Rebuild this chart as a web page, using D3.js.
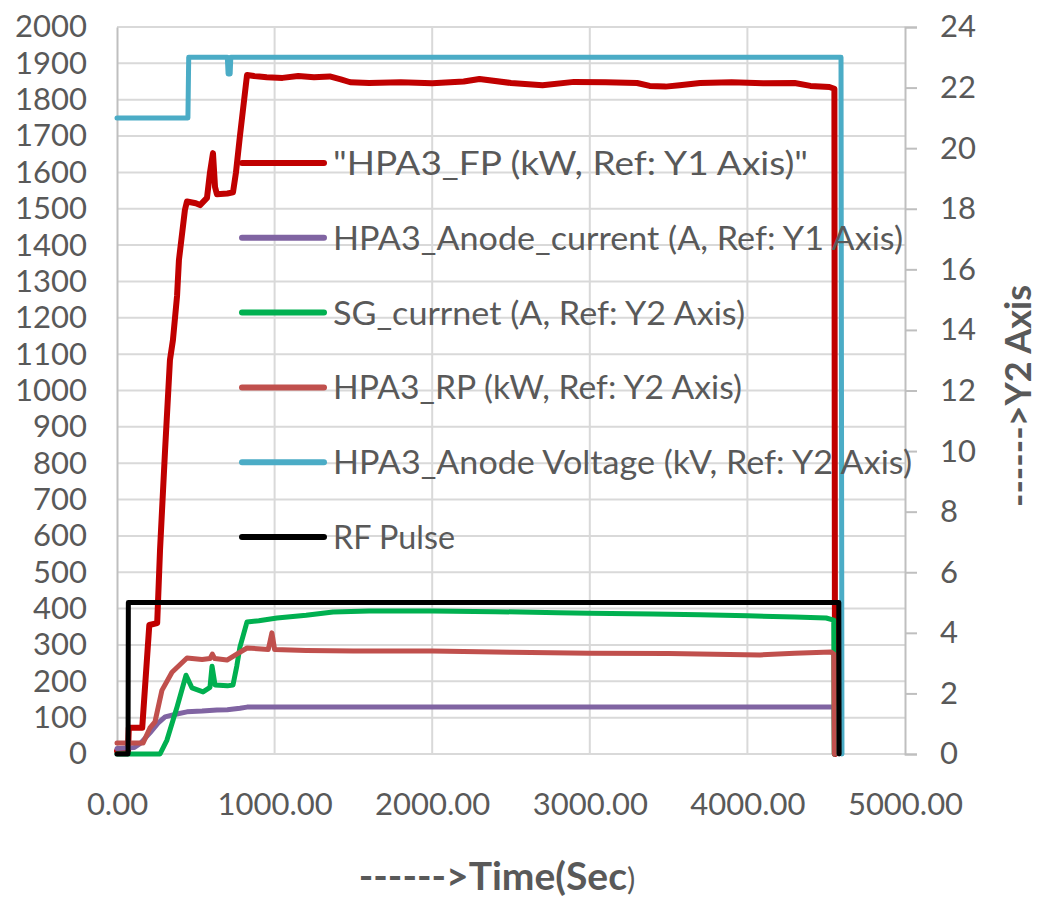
<!DOCTYPE html>
<html>
<head>
<meta charset="utf-8">
<script src="https://cdn.jsdelivr.net/npm/d3@7"></script>
<style>
  body { margin: 0; background: #fff; }
  text { font-family: Lato, "Open Sans", sans-serif; fill: #595959; }
</style>
</head>
<body>
<div id="chart"></div>
<script>
// chart values

var xTicks = [0, 1000, 2000, 3000, 4000, 5000];
var y1Ticks = d3.range(0, 2001, 100);
var y2Ticks = d3.range(0, 25, 2);

// HPA3_FP (kW, Y1)
var fpTime = [0, 70, 75, 160, 205, 255, 273, 305, 336, 355, 381, 393, 431, 444, 500, 527, 571, 590, 609, 622, 634, 700, 736, 755, 780, 825, 870, 950, 1050, 1150, 1250, 1350, 1420, 1480, 1600, 1800, 2000, 2200, 2300, 2500, 2700, 2900, 3100, 3300, 3380, 3480, 3570, 3700, 3900, 4100, 4300, 4400, 4520, 4552, 4556];
var fpVal  = [8, 8, 72, 72, 355, 360, 561, 836, 1084, 1139, 1260, 1359, 1497, 1520, 1515, 1510, 1530, 1600, 1653, 1560, 1540, 1542, 1545, 1600, 1700, 1868, 1865, 1862, 1860, 1865, 1862, 1864, 1856, 1848, 1846, 1848, 1845, 1850, 1857, 1846, 1840, 1849, 1848, 1846, 1838, 1836, 1840, 1846, 1848, 1845, 1846, 1838, 1835, 1830, 0];

// HPA3_Anode_current (A, Y1)
var acTime = [0, 110, 150, 209, 260, 305, 380, 444, 540, 634, 700, 780, 825, 1500, 2500, 3500, 4550, 4553];
var acVal  = [15, 18, 30, 58, 85, 102, 110, 116, 118, 121, 122, 126, 129, 129, 129, 129, 129, 0];

// SG_currnet (A, Y2)
var sgTime = [0, 273, 317, 381, 438, 476, 546, 590, 603, 622, 700, 736, 760, 780, 825, 900, 1015, 1200, 1371, 1600, 2000, 2400, 2800, 3000, 3400, 3700, 4000, 4300, 4500, 4548, 4551];
var sgVal  = [0, 0, 0.46, 1.55, 2.6, 2.18, 2.05, 2.2, 2.9, 2.28, 2.25, 2.28, 2.9, 3.53, 4.36, 4.4, 4.49, 4.58, 4.69, 4.72, 4.72, 4.7, 4.66, 4.65, 4.62, 4.6, 4.56, 4.52, 4.49, 4.42, 0];

// HPA3_RP (kW, Y2)
var rpTime = [0, 165, 209, 241, 285, 349, 444, 540, 590, 605, 620, 698, 760, 825, 960, 983, 1000, 1200, 1500, 2000, 2500, 3000, 3500, 4080, 4300, 4530, 4548, 4551];
var rpVal  = [0.36, 0.36, 0.86, 1.06, 2.1, 2.7, 3.17, 3.12, 3.15, 3.3, 3.15, 3.1, 3.3, 3.5, 3.45, 4.0, 3.45, 3.42, 3.4, 3.4, 3.36, 3.33, 3.32, 3.27, 3.33, 3.37, 3.3, 0];

// HPA3_Anode Voltage (kV, Y2)
var avTime = [0, 450, 455, 700, 705, 718, 722, 4594, 4600];
var avVal  = [21, 21, 23, 23, 22.45, 22.45, 23, 23, 0];

// RF Pulse (Y2)
var rfTime = [0, 70, 72, 4580, 4582];
var rfVal  = [0, 0, 5, 5, 0];

var legendNames = [
  "\"HPA3_FP (kW, Ref: Y1 Axis)\"",
  "HPA3_Anode_current (A, Ref: Y1 Axis)",
  "SG_currnet (A, Ref: Y2 Axis)",
  "HPA3_RP (kW, Ref: Y2 Axis)",
  "HPA3_Anode Voltage (kV, Ref: Y2 Axis)",
  "RF Pulse"
];
var seriesColors = ["#C00000", "#8064A2", "#00B050", "#C0504D", "#4BACC6", "#000000"];

var svgWidth = 1039;
var svgHeight = 897;

var svg = d3.select("#chart")
  .append("svg")
  .attr("width", svgWidth)
  .attr("height", svgHeight)
  .style("background", "#fff");

var plot = { left: 117, right: 905, top: 27, bottom: 754 };

var xScale = d3.scaleLinear().domain([0, 5000]).range([plot.left, plot.right]);
var y1Scale = d3.scaleLinear().domain([0, 2000]).range([plot.bottom, plot.top]);
var y2Scale = d3.scaleLinear().domain([0, 24]).range([plot.bottom, plot.top]);

// gridlines
svg.append("g").selectAll("line")
  .data(y1Ticks)
  .enter().append("line")
  .attr("x1", plot.left).attr("x2", plot.right)
  .attr("y1", d => y1Scale(d)).attr("y2", d => y1Scale(d))
  .attr("stroke", "#D9D9D9").attr("stroke-width", 2);

svg.append("g").selectAll("line")
  .data(xTicks.slice(1, -1))
  .enter().append("line")
  .attr("x1", d => xScale(d)).attr("x2", d => xScale(d))
  .attr("y1", plot.top).attr("y2", plot.bottom)
  .attr("stroke", "#D9D9D9").attr("stroke-width", 2);

// axes
var leftAxis = d3.axisLeft(y1Scale).tickValues(y1Ticks).tickSize(0).tickPadding(30).tickFormat(d3.format("d"));
var rightAxis = d3.axisRight(y2Scale).tickValues(y2Ticks).tickSize(12).tickPadding(23).tickFormat(d3.format("d"));
var bottomAxis = d3.axisBottom(xScale).tickValues(xTicks).tickSize(0).tickPadding(39).tickFormat(d3.format(".2f"));

var gl = svg.append("g").attr("transform", `translate(${plot.left},0)`).call(leftAxis);
var gr = svg.append("g").attr("transform", `translate(${plot.right},0)`).call(rightAxis);
var gb = svg.append("g").attr("transform", `translate(0,${plot.bottom})`).call(bottomAxis);
gb.select(".domain").remove();

[gl, gr, gb].forEach(function (g) {
  g.selectAll("text")
    .style("font-family", "Lato, sans-serif")
    .style("font-size", "31px")
    .attr("fill", "#595959");
  g.select(".domain").attr("stroke", "#BFBFBF").attr("stroke-width", 2);
  g.selectAll(".tick line").attr("stroke", "#BFBFBF").attr("stroke-width", 2);
});
gr.selectAll("text").attr("text-anchor", "start");

// lines
function pairs(ts, vs) {
  return ts.map((t, i) => ({ t: t, v: vs[i] }));
}

var series = [
  { data: pairs(fpTime, fpVal), y: y1Scale, w: 6 },
  { data: pairs(acTime, acVal), y: y1Scale, w: 5 },
  { data: pairs(sgTime, sgVal), y: y2Scale, w: 5 },
  { data: pairs(rpTime, rpVal), y: y2Scale, w: 5 },
  { data: pairs(avTime, avVal), y: y2Scale, w: 5 },
  { data: pairs(rfTime, rfVal), y: y2Scale, w: 5 }
];

series.forEach(function (s, i) {
  var line = d3.line()
    .x(d => xScale(d.t))
    .y(d => s.y(d.v));
  svg.append("path")
    .datum(s.data)
    .attr("d", line)
    .attr("fill", "none")
    .attr("stroke", seriesColors[i])
    .attr("stroke-width", s.w)
    .attr("stroke-linejoin", "round")
    .attr("stroke-linecap", "round");
});

// legend
var legendWidths = [475, 570, 412, 409, 579, 122];
var legend = svg.append("g");
legendNames.forEach(function (name, i) {
  var ly = 163 + i * 74.8;
  legend.append("line")
    .attr("x1", 242).attr("x2", 324)
    .attr("y1", ly).attr("y2", ly)
    .attr("stroke", seriesColors[i])
    .attr("stroke-width", 6)
    .attr("stroke-linecap", "round");
  legend.append("text")
    .attr("x", 333)
    .attr("y", ly + 12)
    .style("font-size", "33px")
    .attr("textLength", legendWidths[i])
    .attr("lengthAdjust", "spacingAndGlyphs")
    .text(name);
});

// axis titles
var xTitle = svg.append("text")
  .attr("x", 497)
  .attr("y", 890)
  .attr("text-anchor", "middle")
  .style("font-size", "39px")
  .style("font-weight", "bold");
xTitle.append("tspan").text("------>Time(Sec");
xTitle.append("tspan").style("font-weight", "normal").style("font-size", "31px").text(")");

svg.append("text")
  .attr("transform", "translate(1031,396) rotate(-90)")
  .attr("text-anchor", "middle")
  .style("font-size", "36px")
  .style("font-weight", "bold")
  .text("------>Y2 Axis");
</script>
</body>
</html>
